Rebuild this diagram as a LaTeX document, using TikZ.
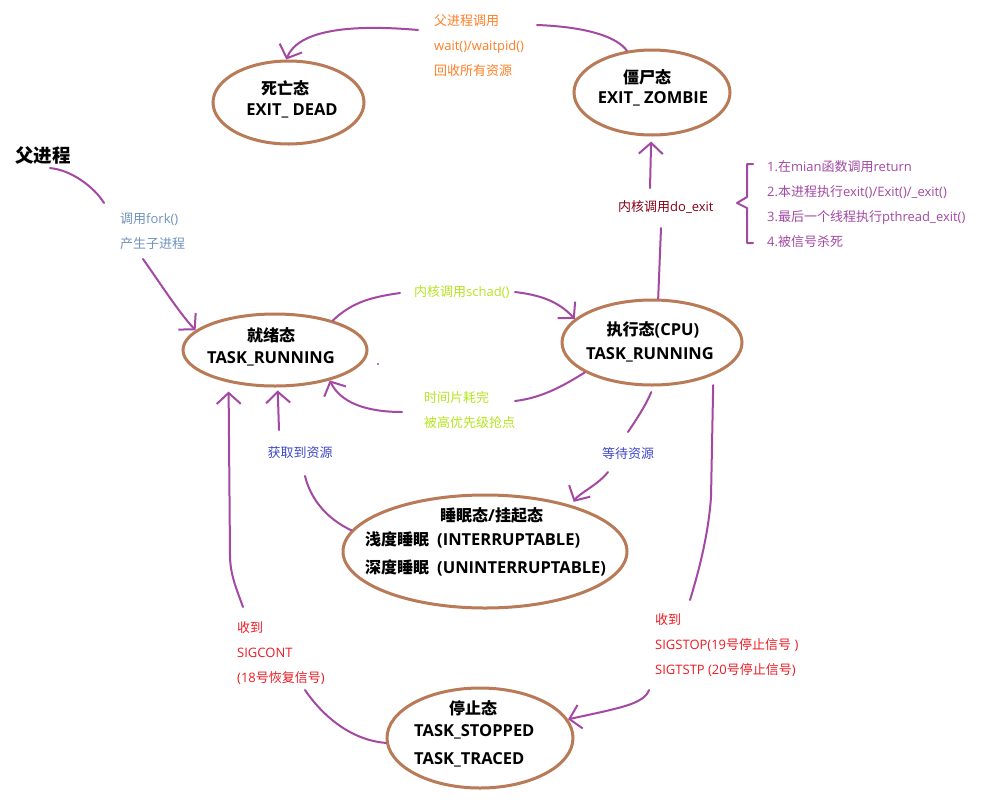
\documentclass[tikz,border=0pt]{standalone}
\usepackage{fontspec}
\setmainfont{Open Sans}
\newfontfamily\cjk{Noto Sans CJK SC}
\usetikzlibrary{shapes.geometric,arrows.meta}
\definecolor{brn}{HTML}{B97A57}
\definecolor{pur}{HTML}{A349A4}
\definecolor{orng}{HTML}{FF7F27}
\definecolor{lime}{HTML}{B5E61D}
\definecolor{indg}{HTML}{3F48CC}
\definecolor{bgray}{HTML}{7092BE}
\definecolor{redc}{HTML}{ED1C24}
\definecolor{dred}{HTML}{880015}
\newcommand\stcjk[1]{{\fontsize{16}{20}\selectfont\cjk #1}}
\begin{document}
\begin{tikzpicture}[x=1pt,y=-1pt,
  state/.style={draw=brn,line width=3pt,ellipse,inner sep=0pt},
  conn/.style={draw=pur,line width=2pt,line cap=round,line join=round},
  arr/.style={conn,-{Straight Barb[length=11pt,width=24pt]}},
  lbl/.style={inner sep=0pt,font=\fontsize{13}{25}\selectfont,align=left,anchor=north west},
  lbl1/.style={inner sep=0pt,font=\fontsize{13}{25}\selectfont},
  st/.style={inner sep=0pt,font=\fontsize{16.5}{20}\selectfont\bfseries}
]
\fill[white] (0,0) rectangle (984,806);
\useasboundingbox (0,0) rectangle (984,806);

% states
\node[state,minimum width=151pt,minimum height=83pt] (dead) at (288.5,102.5) {};
\node[state,minimum width=156pt,minimum height=85pt] (zombie) at (652,92.5) {};
\node[state,minimum width=184pt,minimum height=72pt] (ready) at (275,350) {};
\node[state,minimum width=180pt,minimum height=85pt] (run) at (652,342.5) {};
\node[state,minimum width=284pt,minimum height=113pt] (sleep) at (485,551.5) {};
\node[state,minimum width=186pt,minimum height=100pt] (stop) at (480,738) {};

% state texts
\node[st] (deadA) at (285,88) {\stcjk{死亡态}};
\node[st] (deadB) at (292,111) {EXIT\_ DEAD};
\node[st] (zomA) at (647,77) {\stcjk{僵尸态}};
\node[st] (zomB) at (653,99) {EXIT\_ ZOMBIE};
\node[st] (readyA) at (271,335) {\stcjk{就绪态}};
\node[st] (readyB) at (271,359) {TASK\_RUNNING};
\node[st] (runA) at (653,330) {\stcjk{执行态}(CPU)};
\node[st] (runB) at (650,355) {TASK\_RUNNING};
\node[st,anchor=west] (slA) at (440,515) {\stcjk{睡眠态}/\stcjk{挂起态}};
\node[st,anchor=west] (slB) at (365,540) {\stcjk{浅度睡眠}\hspace{8pt}(INTERRUPTABLE)};
\node[st,anchor=west] (slC) at (365,568) {\stcjk{深度睡眠}\hspace{8pt}(UNINTERRUPTABLE)};
\node[st] (stA) at (473,708) {\stcjk{停止态}};
\node[st,anchor=west] (stB) at (414,732) {TASK\_STOPPED};
\node[st,anchor=west] (stC) at (414,760) {TASK\_TRACED};

\node[inner sep=0pt,font=\fontsize{18.5}{20}\selectfont\bfseries\cjk] (parent) at (43,155) {父进程};

% labels
\node[lbl,text=orng] (waitL) at (434,14.5) {{\cjk 父进程调用}\\wait()/waitpid()\\{\cjk 回收所有资源}};
\node[lbl,text=bgray] (forkL) at (120,212.5) {{\cjk 调用}fork()\\{\cjk 产生子进程}};
\node[lbl1,text=lime,anchor=west] (schadL) at (414,292) {{\cjk 内核调用}schad()};
\node[lbl,text=lime] (timeL) at (424,391.5) {{\cjk 时间片耗完}\\{\cjk 被高优先级抢点}};
\node[lbl1,text=indg] (waitR) at (628,454) {\cjk 等待资源};
\node[lbl1,text=indg] (getR) at (300,453) {\cjk 获取到资源};
\node[lbl,text=redc] (contL) at (237,621.5) {{\cjk 收到}\\SIGCONT\\(18{\cjk 号恢复信号})};
\node[lbl,text=redc] (stopL) at (655,613.5) {{\cjk 收到}\\SIGSTOP(19{\cjk 号停止信号} )\\SIGTSTP (20{\cjk 号停止信号})};
\node[lbl1,text=dred,anchor=west] (exitL) at (618,207) {{\cjk 内核调用}do\_exit};
\node[lbl,text=pur] (listL) at (767,160.5) {1.{\cjk 在}mian{\cjk 函数调用}return\\2.{\cjk 本进程执行}exit()/Exit()/\_exit()\\3.{\cjk 最后一个线程执行}pthread\_exit()\\4.{\cjk 被信号杀死}};

% break points of connectors
\coordinate (f1) at (104,203);
\coordinate (f2) at (143,259);
\coordinate (s1) at (400,293);
\coordinate (s2) at (515,292);
\coordinate (t1) at (515,401);
\coordinate (t2) at (402,412);
\coordinate (w1) at (628,432);
\coordinate (w2) at (608,472);
\coordinate (g1) at (305,476);
\coordinate (g2) at (279,430);
\coordinate (c1) at (243,607);
\coordinate (c2) at (305,690);
\coordinate (p1) at (690,600);
\coordinate (p2) at (649,690);
\coordinate (e1) at (661,228);
\coordinate (e2) at (650,188);
\coordinate (d1) at (537,25);
\coordinate (d2) at (418,30);

% fork
\draw[conn] ([xshift=7pt,yshift=-4pt]parent.south) .. controls (72,170) and (95,188) .. (f1);
\draw[arr] (f2) .. controls (160,283) and (180,314) .. (ready.166);
% schedule
\draw[conn] (ready.27) .. controls (352,302) and (372,297) .. (s1);
\draw[arr] (s2) .. controls (540,295) and (558,301) .. (run.163);
% time slice
\draw[conn] (run.204) .. controls (560,388) and (540,398) .. (t1);
\draw[arr] (t2) .. controls (365,412) and (340,402) .. (ready.331);
% wait resource
\draw[conn,shorten <=6pt] (run.272) .. controls (646,405) and (636,420) .. (w1);
\draw[arr,shorten >=4pt] (w2) .. controls (598,485) and (578,494) .. (sleep.28);
% get resource
\draw[conn] (sleep.171) .. controls (325,518) and (310,497) .. (g1);
\draw[arr,shorten >=3pt] (g2) -- (ready.274);
% SIGCONT
\draw[arr,shorten >=9pt] (c1) .. controls (237,590) and (230,575) .. (230,555) -- (ready.215);
\draw[conn] (c2) .. controls (322,715) and (350,740) .. (stop.183);
% SIGSTOP
\draw[conn,shorten <=10pt] (run.332) -- (711,497) .. controls (708,540) and (696,580) .. (p1);
\draw[arr] (p2) .. controls (644,704) and (620,708) .. (stop.12);
% do_exit
\draw[conn] (run.82) -- (e1);
\draw[arr,shorten >=5pt] (e2) -- (zombie.269);
% wait()
\draw[conn] (zombie.121) .. controls (618,38) and (590,27) .. (d1);
\draw[arr] (d2) .. controls (350,24) and (298,30) .. (dead.93);
% brace
\draw[conn] (753,164) -- (747,164) -- (747,197) -- (737,203) -- (747,208) -- (747,243) -- (753,243);
% stray dot
\fill[pur] (378,364) circle (1.2);
\end{tikzpicture}
\end{document}
